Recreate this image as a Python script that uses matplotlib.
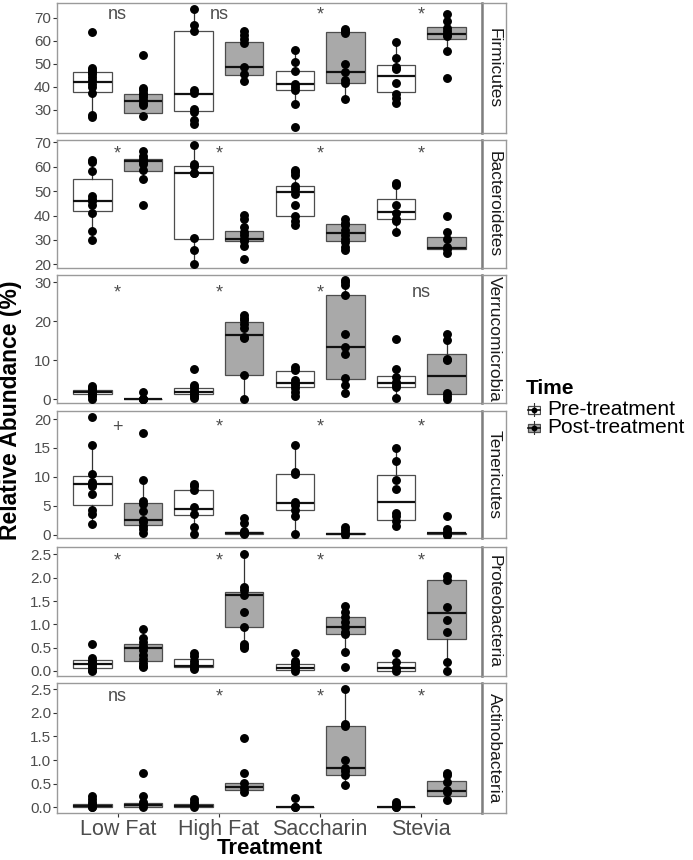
import numpy as np
import matplotlib
matplotlib.use("Agg")
import matplotlib.pyplot as plt
from matplotlib.patches import Rectangle
from matplotlib.ticker import FormatStrFormatter

plt.rcParams['font.family'] = ['Liberation Sans', 'DejaVu Sans']

# ---------------- data ----------------
treatments = ["Low Fat", "High Fat", "Saccharin", "Stevia"]
times = ["Pre-treatment", "Post-treatment"]
phyla = ["Firmicutes", "Bacteroidetes", "Verrucomicrobia", "Tenericutes",
         "Proteobacteria", "Actinobacteria"]

# groups ordered: LF pre, LF post, HF pre, HF post, Sac pre, Sac post, Stv pre, Stv post
firmicutes_points = [
    [63.9, 48.2, 47.5, 46.5, 45.5, 44.5, 43.0, 41.5, 40.0, 37.5, 27.8, 27.0],
    [53.7, 39.5, 38.5, 37.5, 36.5, 35.5, 34.5, 33.0, 32.0, 27.5],
    [74.1, 67.1, 64.2, 38.5, 37.3, 30.3, 29.3, 25.6, 23.9],
    [64.2, 62.7, 60.8, 59.1, 48.9, 45.6, 42.7],
    [56.2, 50.8, 47.0, 41.2, 39.9, 38.8, 32.5, 22.5],
    [65.2, 64.2, 63.5, 50.0, 46.5, 43.1, 41.7, 34.7],
    [59.4, 52.6, 48.5, 47.9, 41.7, 36.9, 35.4, 33.2],
    [71.7, 68.5, 65.6, 64.2, 63.0, 62.0, 55.8, 43.9],
]
firmicutes_q1 = [37.9, 28.7, 29.6, 45.4, 38.8, 41.8, 37.7, 60.8]
firmicutes_med = [42.2, 33.9, 37.0, 48.8, 41.1, 46.6, 44.7, 63.0]
firmicutes_q3 = [46.3, 37.0, 64.3, 59.5, 47.0, 63.8, 49.5, 66.1]
firmicutes_lo = [27.0, 27.5, 23.9, 42.7, 32.5, 34.7, 33.2, 55.8]
firmicutes_hi = [48.2, 39.5, 74.1, 64.2, 56.2, 65.2, 59.4, 71.7]

bacteroidetes_points = [
    [62.7, 62.1, 58.2, 48.0, 47.0, 45.9, 44.2, 41.2, 33.6, 29.9],
    [66.6, 64.5, 63.2, 62.1, 61.0, 58.9, 54.9, 44.2],
    [68.9, 61.1, 60.4, 57.5, 57.3, 30.8, 25.8, 20.3],
    [40.1, 38.8, 35.3, 33.3, 31.9, 30.3, 29.5, 27.4, 22.3],
    [58.6, 57.9, 56.6, 52.2, 50.7, 48.9, 44.5, 39.7, 37.7, 36.3],
    [38.6, 37.1, 36.0, 34.0, 32.2, 30.5, 29.2, 27.0, 26.0],
    [53.4, 52.5, 44.5, 41.2, 38.8, 37.7, 33.4],
    [39.7, 33.3, 30.5, 27.0, 26.2, 24.8],
]
bacteroidetes_q1 = [41.9, 58.4, 30.5, 29.7, 40.0, 29.5, 38.4, 26.3]
bacteroidetes_med = [46.0, 62.3, 57.5, 30.3, 49.5, 32.7, 41.5, 26.8]
bacteroidetes_q3 = [55.2, 63.2, 60.3, 33.6, 52.2, 36.6, 47.0, 31.4]
bacteroidetes_lo = [29.9, 54.9, 20.3, 27.4, 36.3, 26.0, 33.4, 24.8]
bacteroidetes_hi = [62.7, 66.6, 68.9, 40.1, 58.6, 38.6, 53.4, 33.3]

verruco_points = [
    [3.4, 2.9, 2.5, 2.1, 1.7, 1.2, 0.8, 0.2],
    [1.95, 0.1, 0.05, 0.0, 0.0],
    [7.8, 3.7, 3.1, 2.5, 1.9, 1.4, 0.8, 0.3],
    [21.6, 21.0, 20.4, 19.3, 18.2, 16.1, 15.7, 6.2, 0.0],
    [8.2, 7.6, 5.0, 4.3, 3.7, 2.9, 2.0, 0.8],
    [30.6, 30.0, 29.3, 26.9, 16.7, 13.5, 11.6, 5.4, 3.7, 1.6],
    [15.6, 7.7, 5.7, 4.6, 3.7, 3.1, 0.3],
    [16.8, 15.3, 10.5, 10.0, 1.6, 0.8, 0.2],
]
verruco_q1 = [1.35, 0.0, 1.4, 6.2, 3.1, 5.3, 3.1, 1.4]
verruco_med = [1.9, 0.05, 1.8, 16.4, 4.2, 13.4, 4.1, 6.0]
verruco_q3 = [2.55, 0.1, 2.9, 19.9, 7.2, 26.8, 6.1, 11.6]
verruco_lo = [0.2, 0.0, 0.3, 0.0, 0.8, 1.6, 0.3, 0.2]
verruco_hi = [3.4, 0.1, 3.7, 21.6, 8.2, 30.6, 7.7, 16.8]

teneric_points = [
    [20.3, 15.5, 10.5, 9.1, 8.8, 8.4, 7.0, 4.3, 3.5, 1.8],
    [17.6, 9.4, 5.8, 5.3, 4.1, 2.6, 2.2, 1.5, 0.9, 0.3],
    [8.8, 8.4, 7.7, 4.7, 3.5, 1.3, 0.1],
    [2.9, 2.0, 0.6, 0.3, 0.2, 0.05],
    [15.5, 10.9, 10.5, 5.7, 5.1, 4.3, 3.2, 0.05],
    [1.3, 0.7, 0.2, 0.0],
    [15.0, 12.8, 9.5, 7.9, 3.7, 3.2, 2.4, 1.5],
    [3.2, 0.9, 0.5, 0.1, 0.0],
]
teneric_q1 = [5.1, 1.7, 3.3, 0.15, 4.3, 0.05, 2.6, 0.05]
teneric_med = [8.7, 2.6, 4.5, 0.3, 5.5, 0.15, 5.7, 0.2]
teneric_q3 = [10.1, 5.5, 7.7, 0.45, 10.5, 0.3, 10.3, 0.35]
teneric_lo = [1.8, 0.3, 0.1, 0.05, 0.05, 0.0, 1.5, 0.0]
teneric_hi = [15.5, 9.4, 8.8, 0.6, 15.5, 0.7, 15.0, 0.5]

proteo_points = [
    [0.58, 0.27, 0.22, 0.18, 0.13, 0.08, 0.02, 0.0],
    [0.89, 0.70, 0.63, 0.54, 0.44, 0.34, 0.25, 0.16, 0.11, 0.08],
    [0.38, 0.31, 0.22, 0.14, 0.09, 0.04],
    [2.50, 1.81, 1.74, 1.64, 1.27, 0.94, 0.58, 0.54, 0.50],
    [0.38, 0.22, 0.16, 0.11, 0.06, 0.0],
    [1.39, 1.26, 1.16, 1.06, 0.94, 0.84, 0.79, 0.41, 0.09],
    [0.38, 0.20, 0.06, 0.0],
    [2.04, 1.96, 1.38, 1.09, 0.84, 0.20, 0.0],
]
proteo_q1 = [0.07, 0.22, 0.09, 0.94, 0.01, 0.79, 0.0, 0.69]
proteo_med = [0.15, 0.50, 0.11, 1.64, 0.06, 0.94, 0.06, 1.25]
proteo_q3 = [0.24, 0.57, 0.26, 1.70, 0.14, 1.16, 0.20, 1.96]
proteo_lo = [0.0, 0.08, 0.04, 0.50, 0.0, 0.41, 0.0, 0.0]
proteo_hi = [0.27, 0.89, 0.38, 2.50, 0.38, 1.39, 0.38, 2.04]

actino_points = [
    [0.23, 0.18, 0.12, 0.06, 0.01, 0.0],
    [0.73, 0.23, 0.12, 0.06, 0.01],
    [0.18, 0.12, 0.06, 0.01],
    [1.46, 0.73, 0.51, 0.40, 0.33],
    [0.20, 0.0, 0.0],
    [2.50, 1.76, 1.71, 1.00, 0.84, 0.76, 0.69, 0.47],
    [0.12, 0.06, 0.01, 0.0],
    [0.73, 0.68, 0.53, 0.37, 0.32, 0.16],
]
actino_q1 = [0.01, 0.0, 0.0, 0.37, 0.0, 0.69, 0.0, 0.24]
actino_med = [0.03, 0.05, 0.02, 0.42, 0.0, 0.84, 0.0, 0.35]
actino_q3 = [0.06, 0.10, 0.07, 0.52, 0.0, 1.72, 0.01, 0.56]
actino_lo = [0.0, 0.0, 0.0, 0.33, 0.0, 0.47, 0.0, 0.16]
actino_hi = [0.06, 0.10, 0.07, 0.55, 0.0, 2.50, 0.01, 0.73]

# significance labels per treatment
firmicutes_sig = ["ns", "ns", "*", "*"]
bacteroidetes_sig = ["*", "*", "*", "*"]
verruco_sig = ["*", "*", "*", "ns"]
teneric_sig = ["+", "*", "*", "*"]
proteo_sig = ["*", "*", "*", "*"]
actino_sig = ["ns", "*", "*", "*"]

# ---------------- assemble ----------------
panels = [
    (firmicutes_points, firmicutes_q1, firmicutes_med, firmicutes_q3, firmicutes_lo, firmicutes_hi, firmicutes_sig),
    (bacteroidetes_points, bacteroidetes_q1, bacteroidetes_med, bacteroidetes_q3, bacteroidetes_lo, bacteroidetes_hi, bacteroidetes_sig),
    (verruco_points, verruco_q1, verruco_med, verruco_q3, verruco_lo, verruco_hi, verruco_sig),
    (teneric_points, teneric_q1, teneric_med, teneric_q3, teneric_lo, teneric_hi, teneric_sig),
    (proteo_points, proteo_q1, proteo_med, proteo_q3, proteo_lo, proteo_hi, proteo_sig),
    (actino_points, actino_q1, actino_med, actino_q3, actino_lo, actino_hi, actino_sig),
]

# layout (pixels)
W, H = 693, 860
left_px, right_px, strip_px = 57, 482, 506
tops = [3, 140, 275, 411, 547, 683]
bots = [133, 268, 403, 538, 676, 813]
ylims = [(20.0, 76.5), (18.5, 71.0), (-0.9, 31.9), (-0.6, 21.4), (-0.11, 2.66), (-0.12, 2.63)]
yticks = [[30, 40, 50, 60, 70], [20, 30, 40, 50, 60, 70], [0, 10, 20, 30],
          [0, 5, 10, 15, 20], [0, 0.5, 1.0, 1.5, 2.0, 2.5], [0, 0.5, 1.0, 1.5, 2.0, 2.5]]
sig_y = [69.4, 63.3, 26.2, 17.8, 2.26, 2.24]

PRE_FILL, POST_FILL = "white", "#A9A9A9"
BORDER = "#9A9A9A"
TXT = "#4D4D4D"
offset, bw = 0.25, 0.38

fig = plt.figure(figsize=(W / 100, H / 100), dpi=100)

for i, (pts, q1, med, q3, lo, hi, sig) in enumerate(panels):
    t, b = tops[i], bots[i]
    ax = fig.add_axes([left_px / W, 1 - b / H, (right_px - left_px) / W, (b - t) / H])
    positions = []
    for k in range(len(treatments)):
        positions += [k + 1 - offset, k + 1 + offset]
    stats = [dict(med=med[j], q1=q1[j], q3=q3[j], whislo=lo[j], whishi=hi[j], fliers=[])
             for j in range(len(pts))]
    res = ax.bxp(stats, positions=positions, widths=bw, patch_artist=True,
                 showfliers=False, showcaps=False,
                 boxprops=dict(edgecolor="#4D4D4D", linewidth=0.9),
                 medianprops=dict(color="#111111", linewidth=1.6),
                 whiskerprops=dict(color="#333333", linewidth=0.9))
    for j, patch in enumerate(res["boxes"]):
        patch.set_facecolor(PRE_FILL if j % 2 == 0 else POST_FILL)
    for j, p in enumerate(pts):
        ax.plot(np.full(len(p), positions[j]), p, "o", color="black", ms=5.4,
                mec="black", zorder=4)
    for k, s in enumerate(sig):
        ax.text(k + 1, sig_y[i], s, ha="center", va="baseline", fontsize=13, color=TXT)

    ax.set_xlim(0.4, 4.6)
    ax.set_ylim(*ylims[i])
    ax.set_yticks(yticks[i])
    if i >= 4:
        ax.yaxis.set_major_formatter(FormatStrFormatter("%.1f"))
    ax.tick_params(axis="y", labelsize=11, labelcolor=TXT, color="#333333",
                   length=2.75, width=0.8, pad=1.5)
    if i == len(panels) - 1:
        ax.set_xticks(range(1, len(treatments) + 1))
        ax.set_xticklabels(treatments)
        ax.tick_params(axis="x", labelsize=15.5, labelcolor=TXT, color="#333333",
                       length=2.75, width=0.8, pad=1.5)
    else:
        ax.set_xticks([])
    for sp in ax.spines.values():
        sp.set_color(BORDER)
        sp.set_linewidth(1.0)

    sax = fig.add_axes([right_px / W, 1 - b / H, (strip_px - right_px) / W, (b - t) / H])
    sax.set_xticks([])
    sax.set_yticks([])
    for sp in sax.spines.values():
        sp.set_color(BORDER)
        sp.set_linewidth(1.0)
    sax.spines["left"].set_color("#7F7F7F")
    sax.spines["left"].set_linewidth(1.8)
    sax.text(0.5, 0.5, phyla[i], rotation=270, ha="center", va="center",
             fontsize=12.5, color="#1A1A1A", transform=sax.transAxes)

# axis titles
fig.text((left_px + right_px) / 2 / W, 1 - 848 / H, "Treatment", ha="center", va="center",
         fontsize=16, fontweight="bold", color="black")
fig.text(11 / W, 1 - 410 / H, "Relative Abundance (%)", ha="center", va="center",
         rotation=90, fontsize=16.5, fontweight="bold", color="black")

# legend (manual)
fig.text(526 / W, 1 - 388 / H, "Time", ha="left", va="center", fontsize=15,
         fontweight="bold", color="black")
key_y = [410, 428]
for j, lab in enumerate(times):
    cy = key_y[j]
    kax = fig.add_axes([527 / W, 1 - (cy + 7) / H, 14 / W, 14 / H])
    kax.set_xlim(0, 1)
    kax.set_ylim(0, 1)
    kax.axis("off")
    kax.plot([0.5, 0.5], [0.02, 0.98], color="#333333", lw=0.8)
    kax.add_patch(Rectangle((0.1, 0.22), 0.8, 0.56,
                            facecolor=PRE_FILL if j == 0 else POST_FILL,
                            edgecolor="#4D4D4D", lw=0.9))
    kax.plot([0.1, 0.9], [0.5, 0.5], color="#111111", lw=1.2)
    kax.plot([0.5], [0.5], "o", color="black", ms=3.2)
    fig.text(547 / W, 1 - cy / H, lab, ha="left", va="center", fontsize=15, color="black")

fig.savefig("out.png", dpi=100)
